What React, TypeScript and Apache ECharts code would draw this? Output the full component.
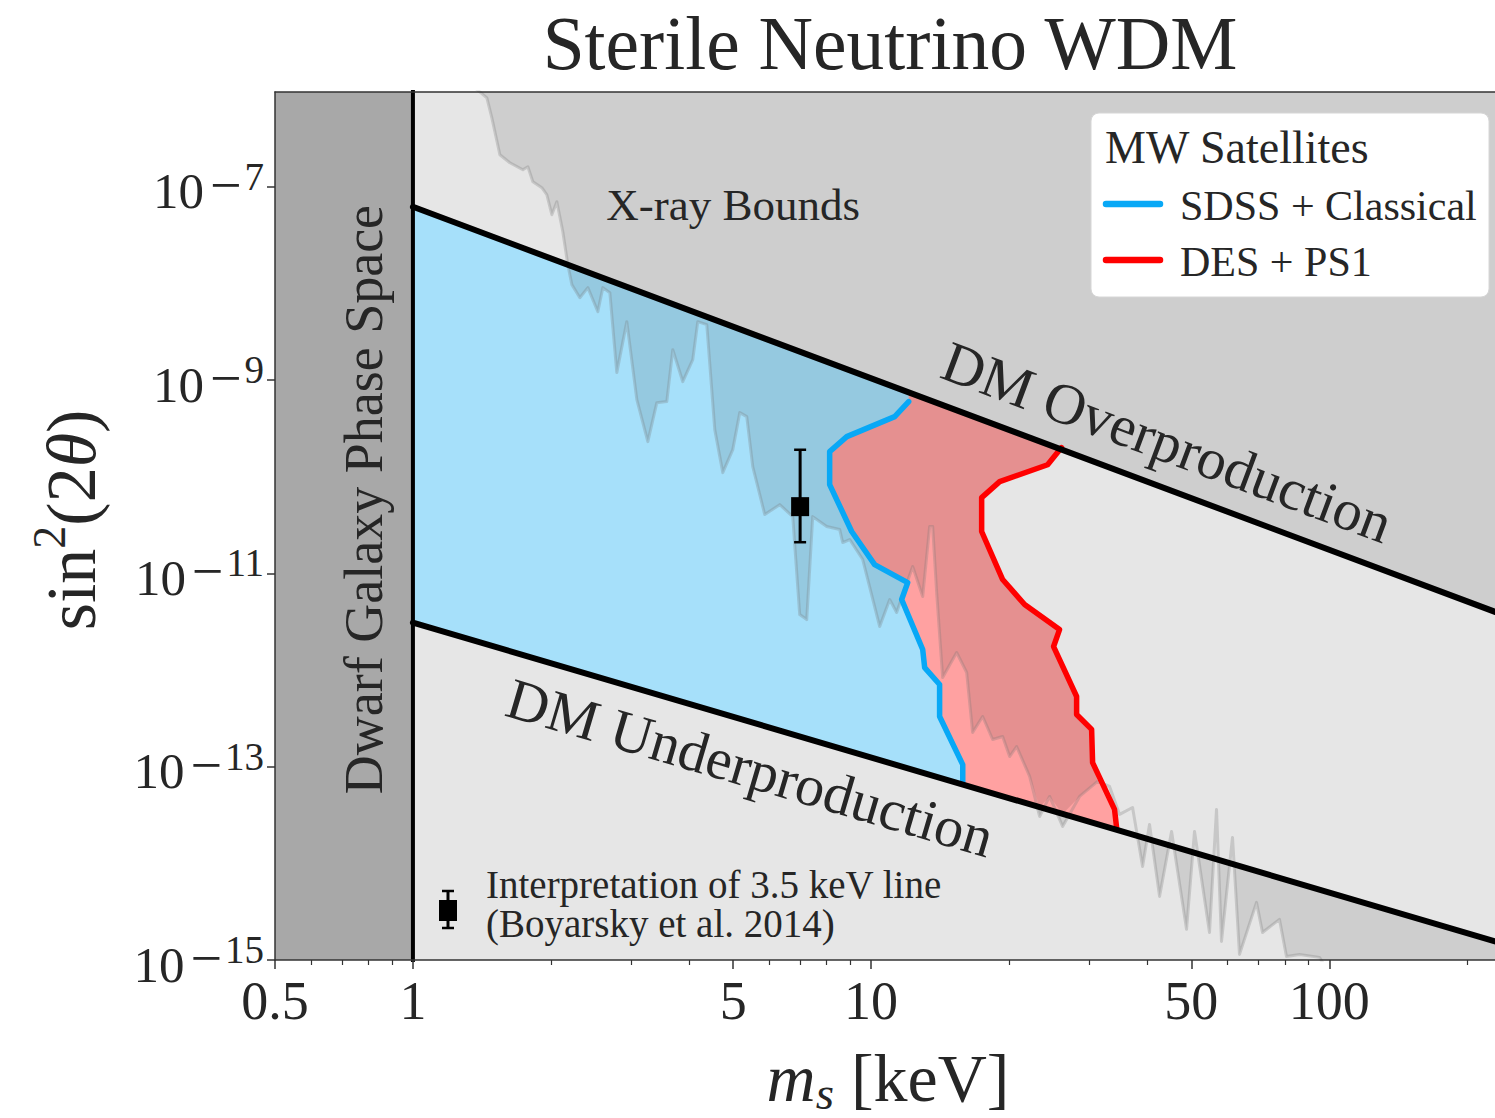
import React, { useEffect, useRef } from "react";
import * as echarts from "echarts";

const FONT = "'Liberation Serif', 'DejaVu Serif', serif";
const INK = "#262626";

// Axis ranges: sterile-neutrino mass in keV, log10 of sin^2(2θ)
const massRange = [0.5, 230];
const log10MixRange = [-15, -6.02];

const xMajorTicks = [0.5, 1, 5, 10, 50, 100];
const xMinorTicks = [0.6, 0.7, 0.8, 0.9, 2, 3, 4, 6, 7, 8, 9, 20, 30, 40, 60, 70, 80, 90, 200];
const yTickExponents = [-15, -13, -11, -9, -7];

// Relic-abundance bounds (straight lines in log-log space)
const overMass = [1, 230];
const overMix = [6.2e-8, 4.0e-12];
const underMass = [1, 230];
const underMix = [3.1e-12, 1.56e-15];

// Phase-space limit from dwarf galaxies
const dwarfMassLimit = 1;

// MW satellites: SDSS + Classical
const sdssMass = [12.08, 11.26, 8.85, 8.12, 8.12, 9.07, 10.18, 12.02, 11.66, 12.96, 13.09, 14.11, 14.11, 15.85, 15.85];
const sdssMix = [5.98e-10, 4.18e-10, 2.6e-10, 1.82e-10, 8.29e-11, 2.71e-11, 1.23e-11, 8.03e-12, 5.36e-12, 1.63e-12, 1.06e-12, 7.08e-13, 3.31e-13, 1.05e-13, 6.87e-14];

// MW satellites: DES + PS1
const desMass = [26.04, 24.28, 19.08, 17.43, 17.43, 19.37, 21.63, 25.78, 25.02, 28.09, 28.09, 30.29, 30.44, 33.99, 34.34];
const desMix = [2.0e-10, 1.33e-10, 8.89e-11, 6.08e-11, 2.71e-11, 8.63e-12, 4.76e-12, 2.62e-12, 1.75e-12, 5.32e-13, 3.47e-13, 2.43e-13, 1.1e-13, 3.61e-14, 2.35e-14];

// X-ray exclusion edge (log10 mass [keV], log10 sin^2 2θ)
const xrayLog10Mass = [0.1353, 0.1614, 0.1723, 0.1898, 0.2116, 0.24, 0.2509, 0.2618, 0.2814, 0.2923, 0.3032, 0.3141, 0.3272, 0.3381, 0.3469, 0.3643, 0.3818, 0.4036, 0.4145, 0.4298, 0.445, 0.4668, 0.4887, 0.5127, 0.5323, 0.5541, 0.5672, 0.589, 0.6108, 0.6217, 0.6414, 0.6588, 0.6763, 0.6981, 0.7134, 0.7286, 0.7417, 0.7679, 0.8006, 0.829, 0.8442, 0.8595, 0.8726, 0.9031, 0.9315, 0.938, 0.9533, 0.9817, 1.0188, 1.0406, 1.0558, 1.0908, 1.1126, 1.1278, 1.1344, 1.1431, 1.1562, 1.1867, 1.2086, 1.2216, 1.2435, 1.2653, 1.2871, 1.3024, 1.3176, 1.346, 1.3678, 1.3896, 1.418, 1.4551, 1.4943, 1.5205, 1.5423, 1.5707, 1.5925, 1.6077, 1.6296, 1.6558, 1.6885, 1.7059, 1.7386, 1.7539, 1.7648, 1.7888, 1.8041, 1.8412, 1.8543, 1.8914, 1.9066, 1.935, 1.9786, 2.0223];
const xrayLog10Mix = [-5.976, -6.08, -6.287, -6.669, -6.752, -6.824, -6.793, -6.948, -7.01, -7.083, -7.29, -7.155, -7.465, -7.807, -8.013, -8.148, -8.044, -8.293, -8.044, -8.096, -8.923, -8.396, -9.203, -9.637, -9.234, -9.223, -8.686, -9.017, -8.789, -8.396, -8.427, -9.513, -9.958, -9.72, -9.337, -9.378, -9.896, -10.392, -10.289, -10.413, -11.426, -11.478, -10.413, -10.516, -10.547, -10.681, -10.65, -10.857, -11.55, -11.271, -11.405, -10.93, -11.24, -10.516, -10.516, -11.199, -12.078, -11.819, -12.026, -12.646, -12.481, -12.719, -12.688, -12.895, -12.791, -13.101, -13.515, -13.308, -13.618, -13.308, -13.153, -13.205, -13.494, -13.422, -14.032, -13.598, -14.342, -13.67, -14.683, -13.67, -14.715, -13.443, -14.808, -13.732, -14.942, -14.404, -14.715, -14.58, -14.963, -14.942, -14.973, -15.304];

// 3.5 keV line interpretation
const boyarskyMass = [7.0];
const boyarskyMix = [4.9e-11];
const boyarskyMixLow = [2.1e-11];
const boyarskyMixHigh = [1.9e-10];

// Label anchors
const overLabelMass = 41;
const underLabelMass = 5.8;
const xrayLabel = [5.0, 6.4e-8];
const dwarfLabel = [0.782, 5.8e-11];

const COLORS = {
  plotBg: "#e6e6e6",
  shade: "rgba(0,0,0,0.1)",
  dwarf: "#a8a8a8",
  blueFill: "#a6e0fa",
  redFill: "#ffa1a1",
  blueLine: "#08a8f6",
  redLine: "#ff0000",
  xrayEdge: "rgba(120,120,120,0.28)",
};

function buildOption() {
  const L = Math.log10;
  const xMinL = L(massRange[0]);
  const xMaxL = L(massRange[1]);
  const [yMinL, yMaxL] = log10MixRange;

  const lineFn = (mass: number[], mix: number[]) => {
    const x0 = L(mass[0]), x1 = L(mass[1]), y0 = L(mix[0]), y1 = L(mix[1]);
    return (lx: number) => y0 + ((y1 - y0) * (lx - x0)) / (x1 - x0);
  };
  const over = lineFn(overMass, overMix);
  const under = lineFn(underMass, underMix);

  const blue = sdssMass.map((m, i) => [L(m), L(sdssMix[i])]);
  const red = desMass.map((m, i) => [L(m), L(desMix[i])]);
  const xray = xrayLog10Mass.map((lx, i) => [lx, xrayLog10Mix[i]]);
  const xd = L(dwarfMassLimit);

  const blueTop = blue[0], blueBot = blue[blue.length - 1];
  const redTop = red[0], redBot = red[red.length - 1];

  const band = [[xd, over(xd)], [xMaxL, over(xMaxL)], [xMaxL, under(xMaxL)], [xd, under(xd)]];
  const blueArea = [
    [xd, over(xd)], [xd, under(xd)], [blueBot[0], under(blueBot[0])],
    ...blue.slice().reverse(), [blueTop[0], over(blueTop[0])],
  ];
  const redArea = [
    [blueTop[0], over(blueTop[0])], ...blue, [blueBot[0], under(blueBot[0])],
    [redBot[0], under(redBot[0])], ...red.slice().reverse(), [redTop[0], over(redTop[0])],
  ];
  const xrayArea = [...xray, [2.5, -15.6], [2.5, -5.8], [xray[0][0], -5.8]];
  const dwarfArea = [[xMinL - 0.05, yMinL - 1], [xd, yMinL - 1], [xd, yMaxL + 1], [xMinL - 0.05, yMaxL + 1]];

  // x position of the DES + PS1 edge at a given mixing
  const redXAt = (ly: number) => {
    if (ly > redTop[1]) return Infinity;
    for (let i = 0; i < red.length - 1; i++) {
      const a = red[i], b = red[i + 1];
      if ((ly <= a[1] && ly >= b[1]) || (ly >= a[1] && ly <= b[1])) {
        const t = (ly - a[1]) / (b[1] - a[1] || 1);
        return a[0] + t * (b[0] - a[0]);
      }
    }
    return -Infinity;
  };
  const inside = (p: number[]) => p[1] < over(p[0]) && p[0] < redXAt(p[1]);
  let first = -1, last = -1;
  xray.forEach((p, i) => {
    if (inside(p)) {
      if (first < 0) first = i;
      last = i;
    }
  });
  const run = xray
    .slice(first, last + 1)
    .map(([lx, ly]) => [lx, Math.min(over(lx), Math.max(under(lx), ly))]);
  const startX = xray[Math.max(0, first - 1)][0];
  const lastY = run[run.length - 1][1];
  const redUp = red.filter((p) => p[1] > lastY).reverse();
  const shadeInBand = [[startX, over(startX)], ...run, ...redUp, [redTop[0], over(redTop[0])]];

  const area = (id: string, pts: number[][], fill: string, z: number) => ({
    type: "custom",
    id,
    z,
    silent: true,
    clip: true,
    data: [[xMinL, yMinL]],
    renderItem: (_p: any, api: any) => ({
      type: "polygon",
      shape: { points: pts.map((p) => api.coord(p)) },
      style: { fill },
    }),
  });

  const curve = (id: string, pts: number[][], color: string, width: number, z: number) => ({
    type: "line",
    id,
    z,
    silent: true,
    clip: true,
    data: pts,
    symbol: "none",
    showSymbol: false,
    lineStyle: { color, width, cap: "round", join: "round" },
  });

  const tickLine = { color: "#333", width: 1.5 };
  const xLabel = (v: number) => {
    const m = Math.pow(10, v);
    return m < 1 ? m.toFixed(1) : String(Math.round(m));
  };

  const annotations = {
    type: "custom",
    id: "annotations",
    z: 10,
    silent: true,
    clip: false,
    data: [[xMinL, yMinL]],
    renderItem: (_p: any, api: any) => {
      const a0 = api.coord([xd, over(xd)]);
      const a1 = api.coord([xMaxL, over(xMaxL)]);
      const tO = Math.atan2(a1[1] - a0[1], a1[0] - a0[0]);
      const pO = api.coord([L(overLabelMass), over(L(overLabelMass))]);
      const b0 = api.coord([xd, under(xd)]);
      const b1 = api.coord([xMaxL, under(xMaxL)]);
      const tU = Math.atan2(b1[1] - b0[1], b1[0] - b0[0]);
      const pU = api.coord([L(underLabelMass), under(L(underLabelMass))]);
      const gap = 44;
      const xr = api.coord([L(xrayLabel[0]), L(xrayLabel[1])]);
      const dw = api.coord([L(dwarfLabel[0]), L(dwarfLabel[1])]);
      const txt = (text: string, x: number, y: number, rotation: number, size: number) => ({
        type: "text",
        x,
        y,
        rotation,
        style: {
          text,
          fontSize: size,
          fontFamily: FONT,
          fill: INK,
          align: "center",
          verticalAlign: "middle",
        },
      });
      return {
        type: "group",
        children: [
          txt("X-ray Bounds", xr[0], xr[1], 0, 45),
          txt("Dwarf Galaxy Phase Space", dw[0], dw[1], Math.PI / 2, 54),
          txt("DM Overproduction", pO[0] + gap * Math.sin(tO), pO[1] - gap * Math.cos(tO), -tO, 58),
          txt("DM Underproduction", pU[0] - gap * Math.sin(tU), pU[1] + gap * Math.cos(tU), -tU, 58),
        ],
      };
    },
  };

  const errorPoint = {
    type: "custom",
    id: "boyarsky",
    z: 9,
    silent: true,
    clip: true,
    data: boyarskyMass.map((m, i) => [L(m), L(boyarskyMix[i]), L(boyarskyMixLow[i]), L(boyarskyMixHigh[i])]),
    renderItem: (_p: any, api: any) => {
      const c = api.coord([api.value(0), api.value(1)]);
      const lo = api.coord([api.value(0), api.value(2)]);
      const hi = api.coord([api.value(0), api.value(3)]);
      const s = { stroke: "#000", lineWidth: 2.5 };
      return {
        type: "group",
        children: [
          { type: "line", shape: { x1: c[0], y1: lo[1], x2: c[0], y2: hi[1] }, style: { stroke: "#000", lineWidth: 3 } },
          { type: "line", shape: { x1: c[0] - 6, y1: lo[1], x2: c[0] + 6, y2: lo[1] }, style: s },
          { type: "line", shape: { x1: c[0] - 6, y1: hi[1], x2: c[0] + 6, y2: hi[1] }, style: s },
          { type: "rect", shape: { x: c[0] - 9, y: c[1] - 9.5, width: 18, height: 19 }, style: { fill: "#000" } },
        ],
      };
    },
  };

  const legendX = 1091, legendY = 113;
  const TOP = 30;

  return {
    animation: false,
    backgroundColor: "#ffffff",
    grid: {
      left: 275,
      top: 92,
      width: 1220,
      height: 868,
      show: true,
      backgroundColor: COLORS.plotBg,
      borderWidth: 0,
      z: 0,
    },
    xAxis: [
      {
        type: "value",
        min: xMinL,
        max: xMaxL,
        position: "bottom",
        z: 12,
        axisLine: { show: true, onZero: false, lineStyle: tickLine },
        axisTick: { show: true, customValues: xMajorTicks.map(L), length: 9, lineStyle: tickLine },
        axisLabel: {
          show: true,
          customValues: xMajorTicks.map(L),
          formatter: xLabel,
          fontSize: 54,
          fontFamily: FONT,
          color: INK,
          margin: 14,
        },
        splitLine: { show: false },
      },
      {
        type: "value",
        min: xMinL,
        max: xMaxL,
        position: "bottom",
        z: 12,
        axisLine: { show: false, onZero: false },
        axisTick: { show: true, customValues: xMinorTicks.map(L), length: 5, lineStyle: { color: "#333", width: 1.2 } },
        axisLabel: { show: false },
        splitLine: { show: false },
      },
      {
        type: "value",
        min: xMinL,
        max: xMaxL,
        position: "top",
        z: 12,
        axisLine: { show: true, onZero: false, lineStyle: tickLine },
        axisTick: { show: false },
        axisLabel: { show: false },
        splitLine: { show: false },
      },
    ],
    yAxis: [
      {
        type: "value",
        min: yMinL,
        max: yMaxL,
        position: "left",
        z: 12,
        axisLine: { show: true, onZero: false, lineStyle: tickLine },
        axisTick: { show: true, customValues: yTickExponents, length: 8, lineStyle: tickLine },
        axisLabel: {
          show: true,
          customValues: yTickExponents,
          margin: 11,
          formatter: (v: number) => `{b|10}{m|\u2212}{s|${Math.round(-v)}}`,
          rich: {
            b: { fontSize: 51, fontFamily: FONT, color: INK, lineHeight: 60, verticalAlign: "bottom" },
            m: { fontSize: 56, fontFamily: FONT, color: INK, lineHeight: 36, verticalAlign: "top", padding: [0, 3, 10, 6] },
            s: { fontSize: 39, fontFamily: FONT, color: INK, lineHeight: 36, verticalAlign: "top" },
          },
        },
        splitLine: { show: false },
      },
    ],
    series: [
      area("xray-region", xrayArea, COLORS.shade, 1),
      area("allowed-band", band, COLORS.plotBg, 2),
      area("sdss-area", blueArea, COLORS.blueFill, 3),
      area("des-area", redArea, COLORS.redFill, 3),
      area("xray-in-band", shadeInBand, COLORS.shade, 4),
      area("dwarf-phase-space", dwarfArea, COLORS.dwarf, 5),
      curve("xray-edge", xray, COLORS.xrayEdge, 3, 6),
      curve("sdss-edge", blue, COLORS.blueLine, 5.5, 7),
      curve("des-edge", red, COLORS.redLine, 5.5, 7),
      curve("overproduction", [[xd, over(xd)], [xMaxL, over(xMaxL)]], "#000", 6, 8),
      curve("underproduction", [[xd, under(xd)], [xMaxL, under(xMaxL)]], "#000", 6, 8),
      curve("dwarf-limit", [[xd, yMinL - 1], [xd, yMaxL + 1]], "#000", 4, 8),
      errorPoint,
      annotations,
    ],
    graphic: [
      {
        type: "text",
        z: TOP,
        x: 890,
        y: 43,
        style: {
          text: "Sterile Neutrino WDM",
          fontSize: 75.5,
          fontFamily: FONT,
          fill: INK,
          align: "center",
          verticalAlign: "middle",
        },
      },
      {
        type: "text",
        z: TOP,
        x: 888,
        y: 1080,
        style: {
          text: "{i|m}{sub|s}{a| [keV]}",
          align: "center",
          verticalAlign: "middle",
          rich: {
            i: { fontSize: 68, fontFamily: FONT, fontStyle: "italic", fill: INK, lineHeight: 72, verticalAlign: "top" },
            sub: { fontSize: 47, fontFamily: FONT, fontStyle: "italic", fill: INK, lineHeight: 46, verticalAlign: "bottom" },
            a: { fontSize: 68, fontFamily: FONT, fill: INK, lineHeight: 72, verticalAlign: "top" },
          },
        },
      },
      {
        type: "text",
        z: TOP,
        x: 66,
        y: 520,
        rotation: Math.PI / 2,
        style: {
          text: "{a|sin}{p|2}{a|(2}{t|\u03b8}{a|)}",
          align: "center",
          verticalAlign: "middle",
          rich: {
            a: { fontSize: 70, fontFamily: FONT, fill: INK, lineHeight: 80, verticalAlign: "bottom" },
            p: { fontSize: 46, fontFamily: FONT, fill: INK, lineHeight: 46, verticalAlign: "top" },
            t: { fontSize: 70, fontFamily: FONT, fontStyle: "italic", fill: INK, lineHeight: 80, verticalAlign: "bottom" },
          },
        },
      },
      {
        type: "group",
        z: TOP,
        children: [
          {
            type: "rect",
            z: TOP,
            shape: { x: legendX, y: legendY, width: 398, height: 184, r: 8 },
            style: { fill: "#ffffff", stroke: "#d6d6d6", lineWidth: 1 },
          },
          {
            type: "text",
            z: TOP + 1,
            x: 1105,
            y: 147,
            style: { text: "MW Satellites", fontSize: 46, fontFamily: FONT, fill: INK, align: "left", verticalAlign: "middle" },
          },
          {
            type: "line",
            z: TOP + 1,
            shape: { x1: 1106, y1: 204, x2: 1160, y2: 204 },
            style: { stroke: COLORS.blueLine, lineWidth: 6.5, lineCap: "round" },
          },
          {
            type: "text",
            z: TOP + 1,
            x: 1180,
            y: 206,
            style: { text: "SDSS + Classical", fontSize: 42, fontFamily: FONT, fill: INK, align: "left", verticalAlign: "middle" },
          },
          {
            type: "line",
            z: TOP + 1,
            shape: { x1: 1106, y1: 260, x2: 1160, y2: 260 },
            style: { stroke: COLORS.redLine, lineWidth: 6.5, lineCap: "round" },
          },
          {
            type: "text",
            z: TOP + 1,
            x: 1180,
            y: 262,
            style: { text: "DES + PS1", fontSize: 42, fontFamily: FONT, fill: INK, align: "left", verticalAlign: "middle" },
          },
        ],
      },
      {
        type: "group",
        z: TOP,
        children: [
          { type: "line", z: TOP, shape: { x1: 448, y1: 891, x2: 448, y2: 928 }, style: { stroke: "#000", lineWidth: 3 } },
          { type: "line", z: TOP, shape: { x1: 442, y1: 891, x2: 454, y2: 891 }, style: { stroke: "#000", lineWidth: 2.5 } },
          { type: "line", z: TOP, shape: { x1: 442, y1: 928, x2: 454, y2: 928 }, style: { stroke: "#000", lineWidth: 2.5 } },
          { type: "rect", z: TOP, shape: { x: 439, y: 900, width: 18, height: 21 }, style: { fill: "#000" } },
          {
            type: "text",
            z: TOP,
            x: 486,
            y: 884,
            style: { text: "Interpretation of 3.5 keV line", fontSize: 39, fontFamily: FONT, fill: INK, align: "left", verticalAlign: "middle" },
          },
          {
            type: "text",
            z: TOP,
            x: 486,
            y: 923,
            style: { text: "(Boyarsky et al. 2014)", fontSize: 39, fontFamily: FONT, fill: INK, align: "left", verticalAlign: "middle" },
          },
        ],
      },
    ],
  };
}

export default function App() {
  const ref = useRef<HTMLDivElement>(null);
  useEffect(() => {
    if (!ref.current) return;
    const chart = echarts.init(ref.current, null, { renderer: "svg" });
    chart.setOption(buildOption() as any);
    return () => chart.dispose();
  }, []);
  return (
    <div
      ref={ref}
      style={{ position: "absolute", left: 0, top: 0, width: 1495, height: 1118, background: "#fff" }}
    />
  );
}
